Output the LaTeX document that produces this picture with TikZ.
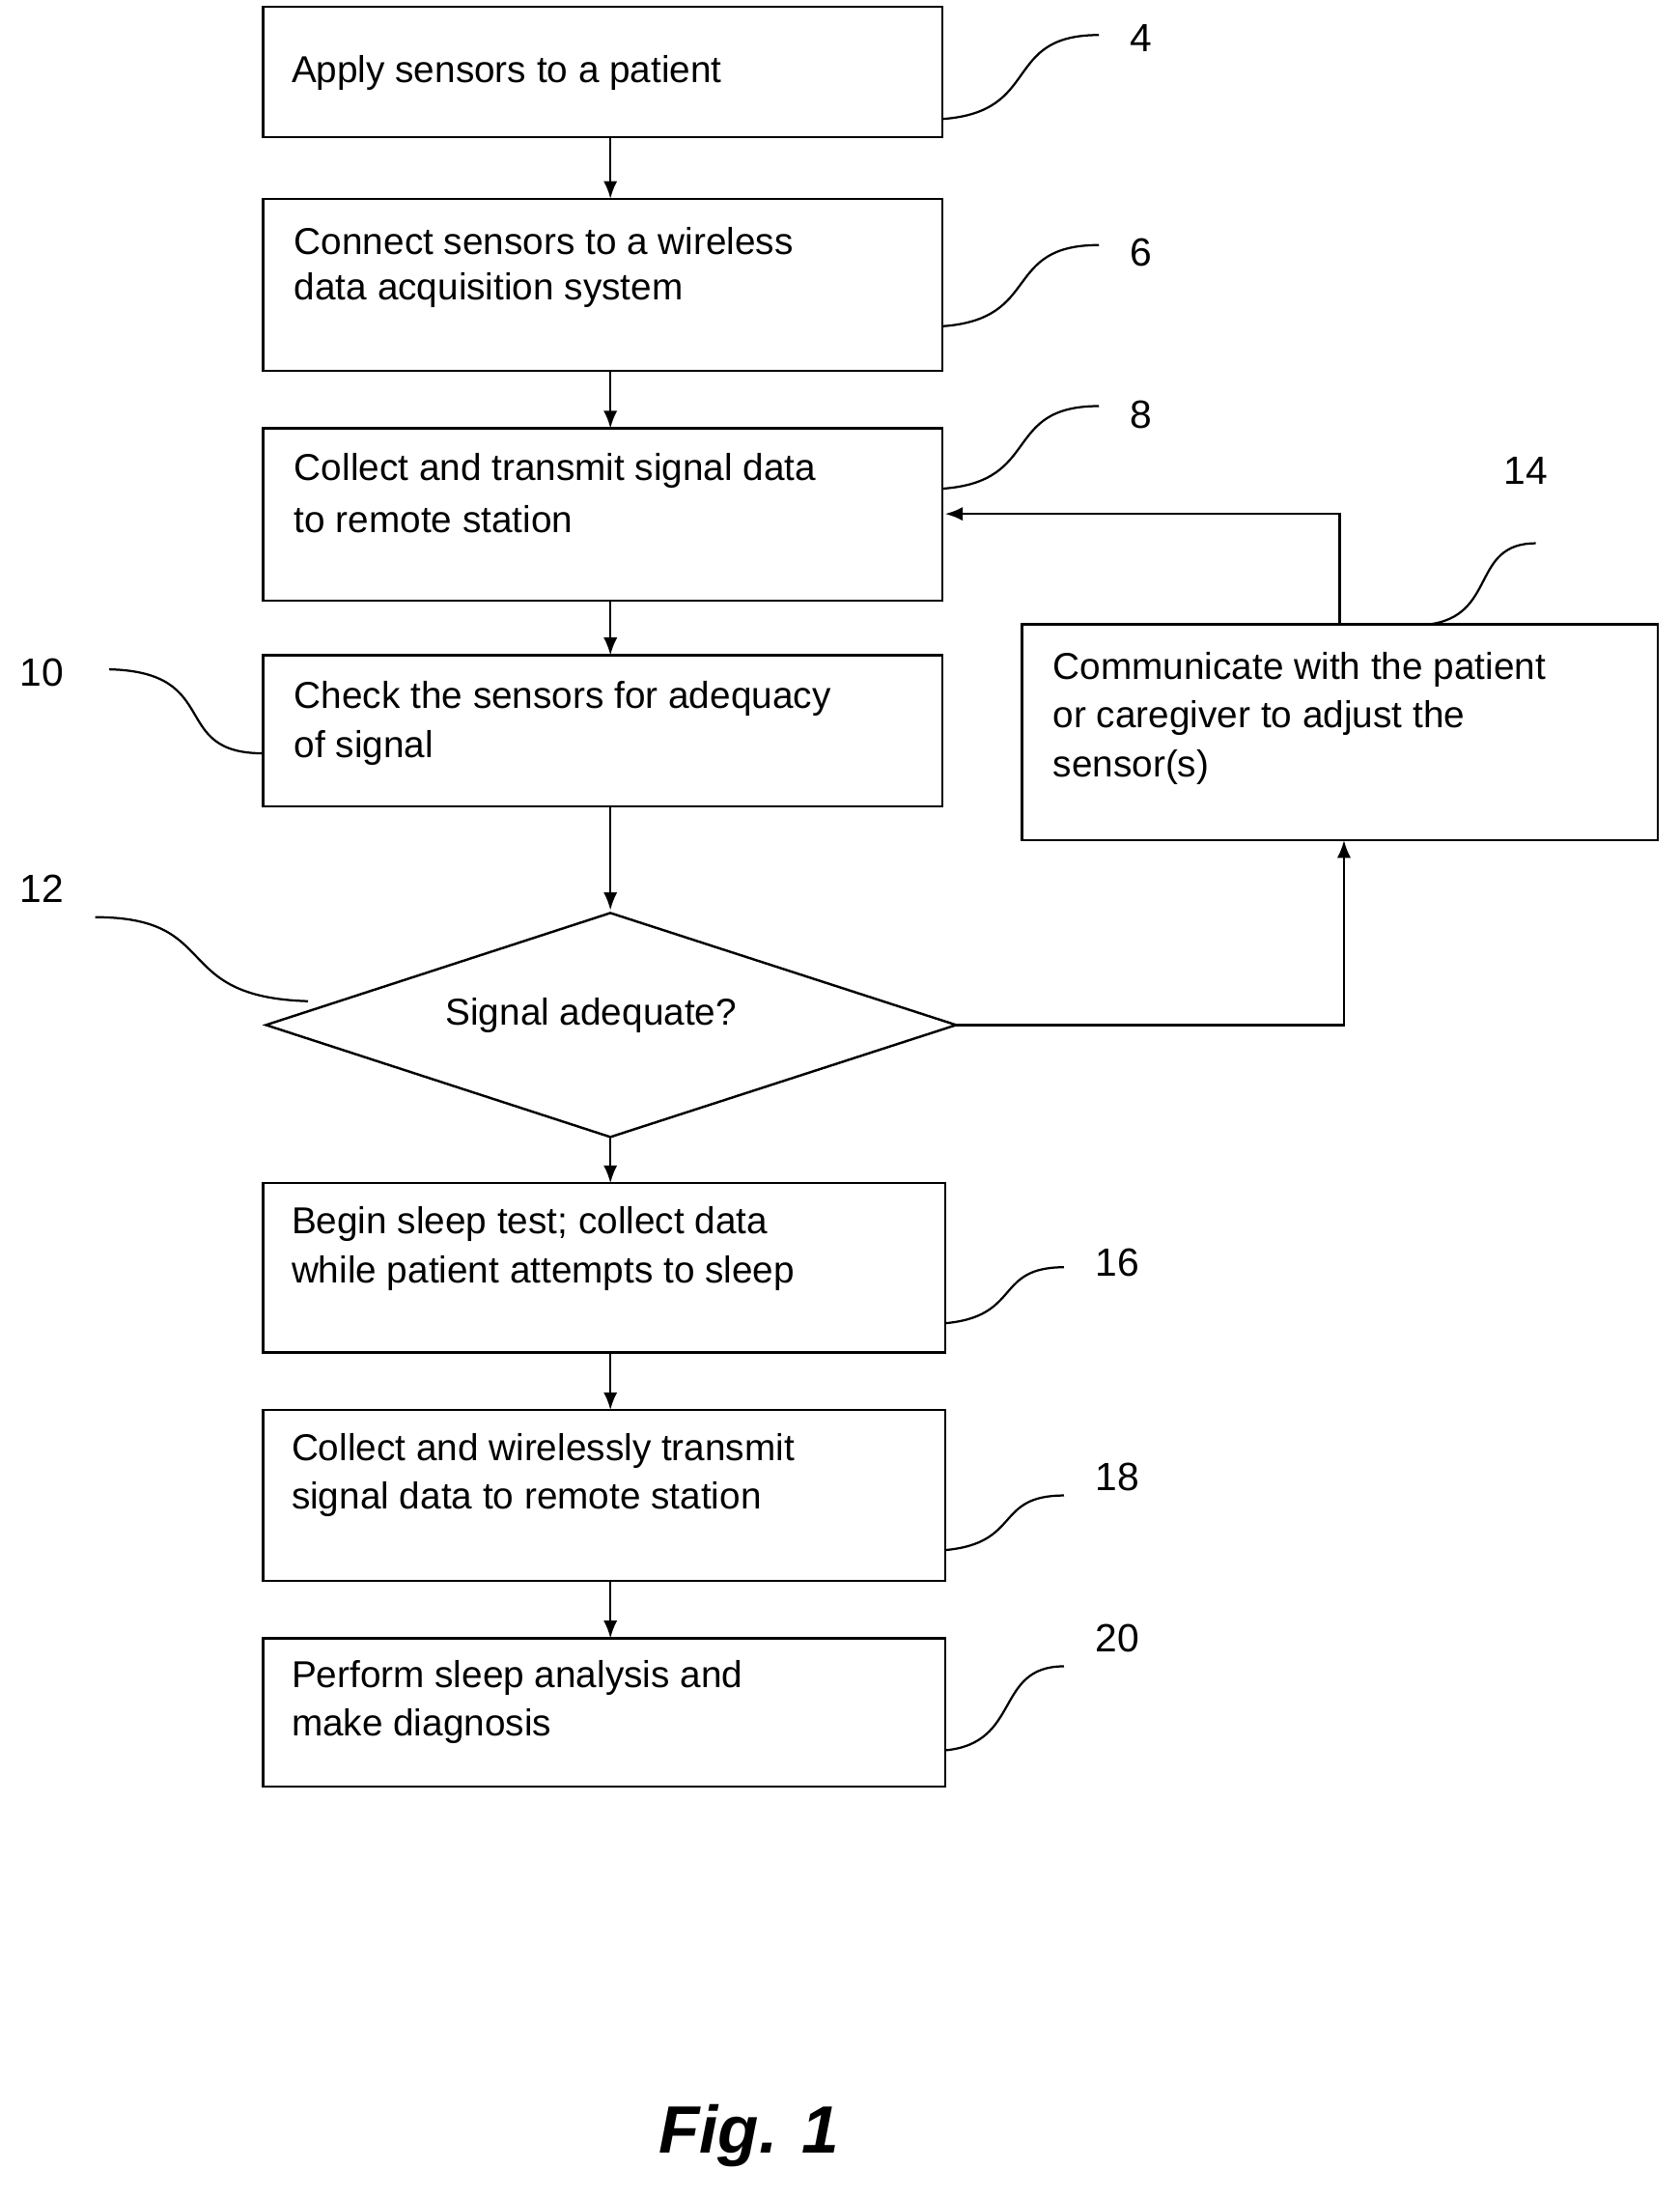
\documentclass[tikz,border=0pt]{standalone}
\usepackage{fontspec}
\setmainfont{Liberation Sans}
\usetikzlibrary{arrows.meta}
\begin{document}
\begin{tikzpicture}[x=0.025cm,y=-0.025cm,
  box/.style={draw,line width=1.2pt,inner sep=0},
  txt/.style={anchor=west,font=\fontsize{19}{23}\selectfont,inner sep=0},
  lbl/.style={font=\fontsize{20}{24}\selectfont,inner sep=0},
  arr/.style={line width=1.2pt,-{Latex[length=9pt,width=7pt]}},
  lead/.style={line width=1.1pt}]
\useasboundingbox (0,0) rectangle (1200,1569);
\draw[box] (188,5) rectangle (673,98);
\draw[box] (188,142) rectangle (673,265);
\draw[box] (188,306) rectangle (673,429);
\draw[box] (188,468) rectangle (673,576);
\draw[box] (188,845) rectangle (675,966);
\draw[box] (188,1007) rectangle (675,1129);
\draw[box] (188,1170) rectangle (675,1276);
\draw[box] (730,446) rectangle (1184,600);
\draw[line width=1.2pt] (190,732) -- (436,652) -- (683,732) -- (436,812) -- cycle;
\coordinate (b1) at (436,98); \coordinate (b2t) at (436,142);
\coordinate (b2) at (436,265); \coordinate (b3t) at (436,306);
\coordinate (b3) at (436,429); \coordinate (b4t) at (436,468);
\coordinate (b4) at (436,576); \coordinate (dt) at (436,650);
\coordinate (db) at (436,812); \coordinate (b5t) at (436,845);
\coordinate (b5) at (436,966); \coordinate (b6t) at (436,1007);
\coordinate (b6) at (436,1129); \coordinate (b7t) at (436,1170);
\coordinate (dr) at (683,732); \coordinate (c14b) at (960,600);
\coordinate (c14t) at (957,446); \coordinate (b3r) at (675,367);
\node[txt] (t1) at (208,52) {Apply sensors to a patient};
\node[txt] (t2a) at (210,172) {Connect sensors to a wireless};
\node[txt] (t2b) at (210,207) {data acquisition system};
\node[txt] (t3a) at (210,336) {Collect and transmit signal data};
\node[txt] (t3b) at (210,371) {to remote station};
\node[txt] (t4a) at (210,499) {Check the sensors for adequacy};
\node[txt] (t4b) at (210,534) {of signal};
\node[txt] (td) at (318,725) {Signal adequate?};
\node[txt] (t5a) at (208,874) {Begin sleep test; collect data};
\node[txt] (t5b) at (208,909) {while patient attempts to sleep};
\node[txt] (t6a) at (208,1036) {Collect and wirelessly transmit};
\node[txt] (t6b) at (208,1071) {signal data to remote station};
\node[txt] (t7a) at (208,1198) {Perform sleep analysis and};
\node[txt] (t7b) at (208,1233) {make diagnosis};
\node[txt] (t8a) at (752,478) {Communicate with the patient};
\node[txt] (t8b) at (752,513) {or caregiver to adjust the};
\node[txt] (t8c) at (752,548) {sensor(s)};
\draw[arr] (b1) -- (b2t);
\draw[arr] (b2) -- (b3t);
\draw[arr] (b3) -- (b4t);
\draw[arr] (b4) -- (dt);
\draw[arr] (db) -- (b5t);
\draw[arr] (b5) -- (b6t);
\draw[arr] (b6) -- (b7t);
\draw[arr] (dr) -- (960,732) -- (c14b);
\draw[arr] (c14t) -- (957,367) -- (b3r);
\node[lbl] (l4) at (815,27) {4};
\node[lbl] (l6) at (815,180) {6};
\node[lbl] (l8) at (815,296) {8};
\node[lbl] (l14) at (1090,336) {14};
\node[lbl] (l10) at (30,480) {10};
\node[lbl] (l12) at (30,635) {12};
\node[lbl] (l16) at (798,902) {16};
\node[lbl] (l18) at (798,1055) {18};
\node[lbl] (l20) at (798,1170) {20};
\draw[lead] (673,85) .. controls (745,80) and (715,25) .. (785,25);
\draw[lead] (673,233) .. controls (745,228) and (715,175) .. (785,175);
\draw[lead] (673,349) .. controls (745,344) and (715,290) .. (785,290);
\draw[lead] (1020,446) .. controls (1070,440) and (1050,388) .. (1097,388);
\draw[lead] (78,478) .. controls (160,480) and (120,538) .. (188,538);
\draw[lead] (68,655) .. controls (160,655) and (120,712) .. (220,715);
\draw[lead] (675,945) .. controls (730,940) and (710,905) .. (760,905);
\draw[lead] (675,1107) .. controls (730,1102) and (710,1068) .. (760,1068);
\draw[lead] (675,1250) .. controls (730,1245) and (710,1190) .. (760,1190);
\node[font=\fontsize{34}{40}\selectfont\bfseries\itshape] (fig) at (535,1525) {Fig. 1};
\end{tikzpicture}
\end{document}
